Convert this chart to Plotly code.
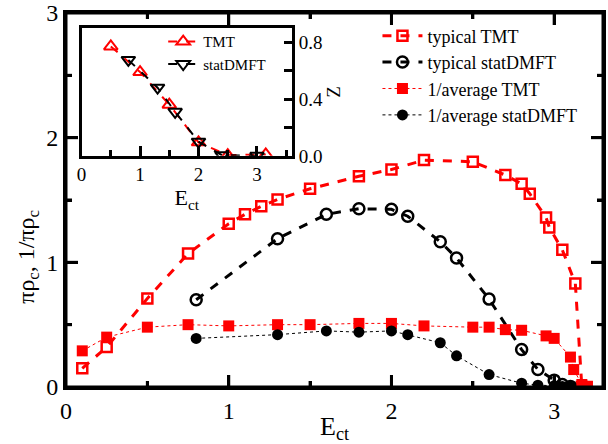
import plotly.graph_objects as go

# ---- main panel data ----
typ_tmt_x = [0.1, 0.25, 0.5, 0.75, 1.0, 1.1, 1.2, 1.3, 1.5, 1.8, 2.0, 2.2, 2.5, 2.7, 2.8, 2.85, 2.95, 2.97, 3.05, 3.13, 3.17, 3.2]
typ_tmt_y = [0.15, 0.32, 0.71, 1.07, 1.31, 1.385, 1.45, 1.505, 1.59, 1.69, 1.745, 1.82, 1.807, 1.70, 1.63, 1.55, 1.36, 1.28, 1.10, 0.83, 0.0, 0.0]

typ_dmft_x = [0.8, 1.3, 1.6, 1.8, 2.0, 2.1, 2.3, 2.4, 2.6, 2.8, 2.9, 3.0, 3.05, 3.1]
typ_dmft_y = [0.70, 1.19, 1.385, 1.43, 1.425, 1.37, 1.165, 1.035, 0.705, 0.30, 0.14, 0.055, 0.02, 0.005]

avg_tmt_x = [0.1, 0.25, 0.5, 0.75, 1.0, 1.3, 1.5, 1.8, 2.0, 2.2, 2.5, 2.6, 2.7, 2.8, 2.95, 3.0, 3.1, 3.12, 3.17, 3.2]
avg_tmt_y = [0.29, 0.40, 0.48, 0.50, 0.49, 0.50, 0.50, 0.51, 0.51, 0.49, 0.48, 0.48, 0.46, 0.455, 0.41, 0.39, 0.24, 0.14, 0.02, 0.0]

avg_dmft_x = [0.8, 1.3, 1.6, 1.8, 2.0, 2.1, 2.3, 2.4, 2.6, 2.8, 2.9, 3.0, 3.05, 3.1]
avg_dmft_y = [0.39, 0.42, 0.45, 0.44, 0.45, 0.42, 0.355, 0.25, 0.10, 0.03, 0.015, 0.01, 0.005, 0.0]

# ---- inset data (Z) ----
z_tmt_x = [0.5, 1.0, 1.5, 2.0, 2.5, 3.15]
z_tmt_y = [0.77, 0.59, 0.36, 0.095, 0.005, 0.01]
z_dmft_x = [0.8, 1.3, 1.6, 2.0, 2.4, 3.0]
z_dmft_y = [0.675, 0.48, 0.31, 0.10, 0.005, 0.0]

X_RANGE = [0, 3.3]
Y_RANGE = [0, 3]
INSET_X_RANGE = [0, 3.6]
INSET_Y_RANGE = [0, 0.9]
MAJOR_TICKS = [0, 1, 2, 3]
MINOR_TICKS = [0.5, 1.5, 2.5]

RED = "#ff0000"
BLK = "#000000"
FONT = "Liberation Serif"

W, H = 608, 444
M = dict(l=66, r=5, t=13, b=57)
px_x = (W - M["l"] - M["r"]) / (X_RANGE[1] - X_RANGE[0])   # pixels per x unit
px_y = (H - M["t"] - M["b"]) / (Y_RANGE[1] - Y_RANGE[0])   # pixels per y unit

fig = go.Figure()

fig.add_trace(go.Scatter(x=typ_tmt_x, y=typ_tmt_y, mode="lines+markers", name="typical TMT",
                         line=dict(color=RED, width=3, dash="dash"),
                         marker=dict(symbol="square-open", size=10, color=RED, line=dict(width=2.5, color=RED)),
                         legend="legend"))
fig.add_trace(go.Scatter(x=typ_dmft_x, y=typ_dmft_y, mode="lines+markers", name="typical statDMFT",
                         line=dict(color=BLK, width=3, dash="dash"),
                         marker=dict(symbol="circle-open", size=11, color=BLK, line=dict(width=2.5, color=BLK)),
                         legend="legend"))
fig.add_trace(go.Scatter(x=avg_tmt_x, y=avg_tmt_y, mode="lines+markers", name="1/average TMT",
                         line=dict(color=RED, width=1, dash="dot"),
                         marker=dict(symbol="square", size=11, color=RED),
                         legend="legend"))
fig.add_trace(go.Scatter(x=avg_dmft_x, y=avg_dmft_y, mode="lines+markers", name="1/average statDMFT",
                         line=dict(color=BLK, width=1, dash="dot"),
                         marker=dict(symbol="circle", size=11, color=BLK),
                         legend="legend"))

fig.add_trace(go.Scatter(x=z_tmt_x, y=z_tmt_y, mode="lines+markers", name="TMT",
                         xaxis="x2", yaxis="y2",
                         line=dict(color=RED, width=2, dash="dash"),
                         marker=dict(symbol="triangle-up-open", size=12, color=RED, line=dict(width=2, color=RED)),
                         legend="legend2"))
fig.add_trace(go.Scatter(x=z_dmft_x, y=z_dmft_y, mode="lines+markers", name="statDMFT",
                         xaxis="x2", yaxis="y2",
                         line=dict(color=BLK, width=2, dash="dash"),
                         marker=dict(symbol="triangle-down-open", size=12, color=BLK, line=dict(width=2, color=BLK)),
                         legend="legend2"))

# ---- main frame with inward ticks on all four sides (built from the axis ranges) ----
x0, x1 = X_RANGE
y0, y1 = Y_RANGE
fx, fy = [x0, x1, x1, x0, x0], [y0, y0, y1, y1, y0]
tick_specs = [(v, 12) for v in MAJOR_TICKS] + [(v, 6) for v in MINOR_TICKS]
for v, L in tick_specs:
    if x0 < v < x1:
        fx += [None, v, v, None, v, v]
        fy += [None, y0, y0 + L / px_y, None, y1, y1 - L / px_y]
    if y0 < v < y1:
        fx += [None, x0, x0 + L / px_x, None, x1, x1 - L / px_x]
        fy += [None, v, v, None, v, v]
fig.add_trace(go.Scatter(x=fx, y=fy, mode="lines", line=dict(color=BLK, width=3),
                         showlegend=False, hoverinfo="skip", cliponaxis=False))

axis_common = dict(showgrid=False, zeroline=False, showline=True, linecolor=BLK,
                   ticks="inside", tickcolor=BLK, automargin=False)
main_minor = dict(dtick=0.5, tick0=0, ticks="inside", ticklen=6, tickwidth=3, tickcolor=BLK, showgrid=False)

fig.update_layout(
    width=W, height=H,
    margin=M,
    plot_bgcolor="white", paper_bgcolor="white",
    font=dict(family=FONT, color=BLK, size=24),
    xaxis=dict(**axis_common, range=X_RANGE, linewidth=3, mirror="ticks",
               tickmode="linear", tick0=0, dtick=1, ticklen=12, tickwidth=3, minor=main_minor,
               tickfont=dict(size=24, family=FONT),
               title=dict(text="E<sub>ct</sub>", font=dict(size=26, family=FONT), standoff=4)),
    yaxis=dict(**axis_common, range=Y_RANGE, linewidth=3, mirror="ticks",
               tickmode="linear", tick0=0, dtick=1, ticklen=12, tickwidth=3, minor=main_minor,
               tickfont=dict(size=24, family=FONT)),
    xaxis2=dict(**axis_common, range=INSET_X_RANGE, domain=[0.029, 0.421], anchor="y2", linewidth=2.5, mirror=True,
                tickmode="linear", tick0=0, dtick=1, ticklen=10, tickwidth=2.5,
                minor=dict(dtick=0.5, tick0=0, ticks="inside", ticklen=6, tickwidth=2.5, tickcolor=BLK, showgrid=False),
                tickfont=dict(size=19, family=FONT),
                title=dict(text="E<sub>ct</sub>", font=dict(size=22, family=FONT), standoff=0)),
    yaxis2=dict(**axis_common, range=INSET_Y_RANGE, domain=[0.618, 0.96], anchor="x2", side="right",
                linewidth=2.5, mirror=True,
                tickmode="linear", tick0=0, dtick=0.4, tickformat=".1f", ticklen=8, tickwidth=2.5,
                minor=dict(dtick=0.2, tick0=0, ticks="inside", ticklen=8, tickwidth=2.5, tickcolor=BLK, showgrid=False),
                tickfont=dict(size=19, family=FONT),
                title=dict(text="Z", font=dict(size=19, family=FONT), standoff=0)),
    legend=dict(x=0.58, y=0.988, xanchor="left", yanchor="top", bgcolor="rgba(0,0,0,0)",
                font=dict(size=18, family=FONT), tracegroupgap=0, itemwidth=40),
    legend2=dict(x=0.181, y=0.967, xanchor="left", yanchor="top", bgcolor="rgba(0,0,0,0)",
                 font=dict(size=15, family=FONT), tracegroupgap=0, itemwidth=30),
    showlegend=True,
    annotations=[dict(text="πρ<sub>c</sub>, 1/πρ<sub>c</sub>", xref="paper", yref="paper",
                      x=-0.071, y=0.348, xanchor="center", yanchor="middle", textangle=-90,
                      showarrow=False, font=dict(size=24, family=FONT))],
)

fig.write_html("out.html")
